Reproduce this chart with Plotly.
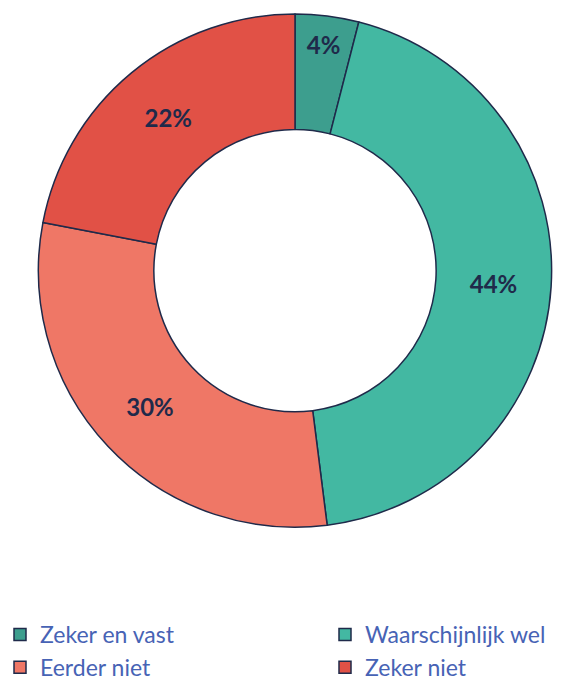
import plotly.graph_objects as go

labels = ["Zeker en vast", "Waarschijnlijk wel", "Eerder niet", "Zeker niet"]
values = [4, 44, 30, 22]
colors = ["#3D9E8E", "#43B8A2", "#EF7766", "#E15146"]

# visible window is 586x689; figure is wider so the two-column legend fits
W, H = 700, 689
cx, cy, R = 295, 271, 257

fig = go.Figure(go.Pie(
    labels=labels,
    values=values,
    hole=0.55,
    sort=False,
    direction="clockwise",
    rotation=0,
    marker=dict(colors=colors, line=dict(color="#1F2A4A", width=1.5)),
    texttemplate="%{percent:.0%}",
    textposition="inside",
    insidetextorientation="horizontal",
    textfont=dict(family="Lato", size=24, color="#1F2A4A", weight="bold"),
    domain=dict(x=[(cx - R) / W, (cx + R) / W], y=[1 - (cy + R) / H, 1 - (cy - R) / H]),
    showlegend=True,
))

fig.update_layout(
    width=W, height=H,
    margin=dict(l=0, r=0, t=0, b=0),
    paper_bgcolor="white",
    plot_bgcolor="white",
    legend=dict(
        orientation="h",
        x=0.0, y=1 - 614 / H, xanchor="left", yanchor="top",
        entrywidth=280, entrywidthmode="pixels",
        font=dict(family="Lato", size=23, color="#4763B5"),
        itemwidth=30,
    ),
)

fig.write_html("out.html", post_script="document.body.style.margin='0px';")
